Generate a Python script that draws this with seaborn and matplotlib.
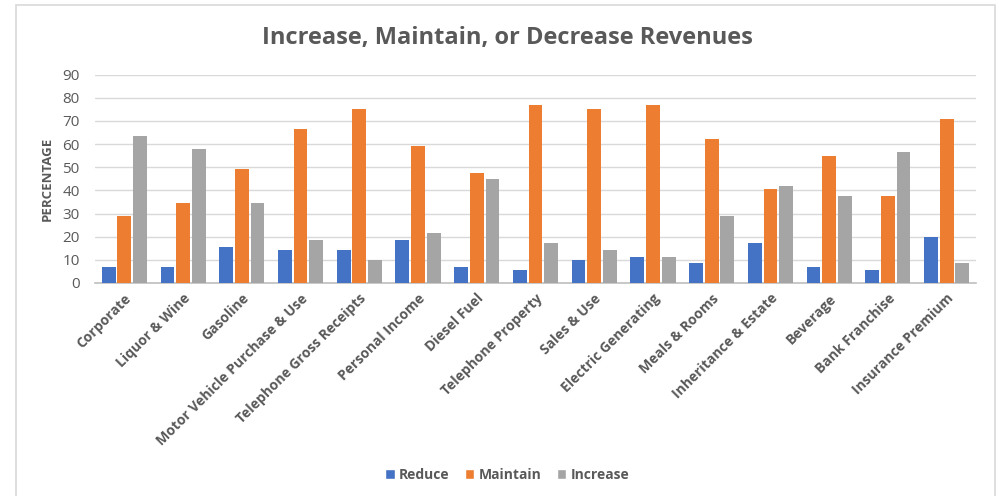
import matplotlib
matplotlib.use("Agg")
import matplotlib.pyplot as plt
import seaborn as sns
import pandas as pd
from matplotlib.patches import Rectangle

categories = ["Corporate", "Liquor & Wine", "Gasoline", "Motor Vehicle Purchase & Use",
              "Telephone Gross Receipts", "Personal Income", "Diesel Fuel",
              "Telephone Property", "Sales & Use", "Electric Generating",
              "Meals & Rooms", "Inheritance & Estate", "Beverage", "Bank Franchise",
              "Insurance Premium"]
reduce_vals = [7.0, 7.0, 15.7, 14.4, 14.4, 18.7, 7.0, 5.7, 10.1, 11.4, 8.8, 17.4, 7.0, 5.7, 20.0]
maintain_vals = [29.0, 34.6, 49.3, 66.5, 75.1, 59.2, 47.6, 76.9, 75.1, 76.9, 62.2, 40.7, 54.9, 37.6, 70.8]
increase_vals = [63.5, 57.9, 34.6, 18.7, 10.1, 21.7, 45.0, 17.4, 14.4, 11.4, 29.0, 42.0, 37.6, 56.6, 8.8]
series_names = ["Reduce", "Maintain", "Increase"]
yticks = list(range(0, 100, 10))

rows = []
for s, vals in zip(series_names, [reduce_vals, maintain_vals, increase_vals]):
    for c, v in zip(categories, vals):
        rows.append({"category": c, "series": s, "value": v})
df = pd.DataFrame(rows)

sns.set_theme(style="white")
plt.rcParams["font.family"] = ["Open Sans", "DejaVu Sans"]
txt = "#595959"
palette = {"Reduce": "#4472C4", "Maintain": "#ED7D31", "Increase": "#A5A5A5"}

fig = plt.figure(figsize=(9.99, 4.96), dpi=100)
ax = fig.add_axes([95/999, 1-283/496, (976-95)/999, (283-74.7)/496])
sns.barplot(data=df, x="category", y="value", hue="series", order=categories,
            hue_order=series_names, palette=palette, width=0.8, ax=ax,
            saturation=1, legend=True, zorder=3)

# small gaps between bars
for p in ax.patches:
    w = p.get_width()
    if w > 0:
        p.set_x(p.get_x() + w*0.06)
        p.set_width(w*0.88)
        p.set_edgecolor("none")

ax.set_ylim(0, 90)
ax.set_xlim(-0.5, len(categories)-0.5)
ax.set_yticks(yticks)
ax.yaxis.grid(True, color="#D9D9D9", linewidth=1, zorder=0)
ax.set_axisbelow(True)
for s in ["top", "right", "left"]:
    ax.spines[s].set_visible(False)
ax.spines["bottom"].set_color("#BFBFBF")
ax.spines["bottom"].set_linewidth(1.2)
ax.tick_params(axis="both", length=0, colors=txt)
ax.tick_params(axis="y", labelsize=11, pad=11)
ax.set_xticks(range(len(categories)))
ax.set_xticklabels(categories, rotation=45, ha="right", rotation_mode="anchor",
                   fontsize=10, fontweight="bold", color=txt)
ax.tick_params(axis="x", pad=6)
ax.set_xlabel("")
ax.set_ylabel("PERCENTAGE", fontsize=9.5, fontweight="bold", color=txt, labelpad=6)

fig.text(507/999, 1-38/496, "Increase, Maintain, or Decrease Revenues", ha="center",
         va="center", fontsize=17, fontweight="bold", color=txt)

handles, labels = ax.get_legend_handles_labels()
ax.get_legend().remove()
fig.legend(handles, labels, loc="center", bbox_to_anchor=(507/999, 1-475/496), ncol=3,
           frameon=False, handlelength=0.7, handleheight=0.7,
           handletextpad=0.3, columnspacing=1.1, prop={"weight": "bold", "size": 10})
for t in fig.legends[0].get_texts():
    t.set_color(txt)

fig.patches.append(Rectangle((16/999, -0.01), (995-16)/999, 1-5/496+0.01,
                             transform=fig.transFigure, fill=False,
                             edgecolor="#D9D9D9", linewidth=1.2))

fig.savefig("out.png", dpi=100)
